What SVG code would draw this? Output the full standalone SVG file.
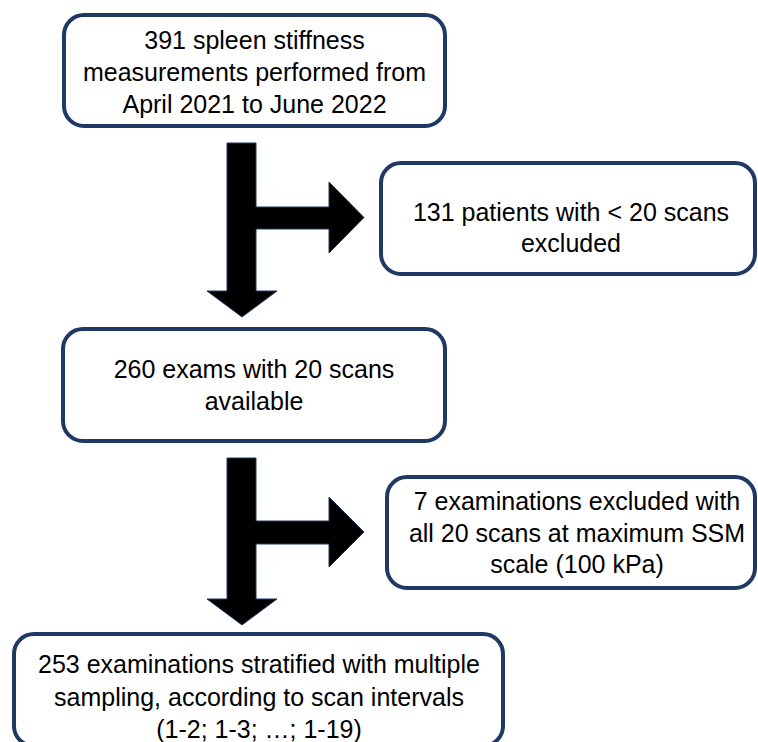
<svg xmlns="http://www.w3.org/2000/svg" width="758" height="742" viewBox="0 0 758 742">
<style>
.box{fill:#ffffff;stroke:#1f3864;stroke-width:4}
.arrow{fill:#000000;stroke:#1f3864;stroke-width:1}
text{font-family:"Liberation Sans",Arial,sans-serif;font-size:25px;fill:#000000;text-anchor:middle}
</style>
<rect width="758" height="742" fill="#ffffff"/>
<g id="connectors">
<path class="arrow" d="M227,143 H256 V207 H329 V182 L364,217.5 L329,253 V229 H256 V291 H277 L242,317 L207,291 H227 Z"/>
<path class="arrow" d="M227,458 H256 V521 H329 V497 L364,532 L329,567 V544 H256 V599 H277 L242,625 L207,599 H227 Z"/>
</g>
<g id="node1">
<rect class="box" x="64" y="15" width="381" height="111" rx="20"/>
<text x="254.5" y="49">391 spleen stiffness</text>
<text x="254.5" y="81">measurements performed from</text>
<text x="254.5" y="113">April 2021 to June 2022</text>
</g>
<g id="node2">
<rect class="box" x="381" y="163" width="374" height="111" rx="20"/>
<text x="571" y="221">131 patients with &lt; 20 scans</text>
<text x="571" y="252">excluded</text>
</g>
<g id="node3">
<rect class="box" x="63" y="329" width="382" height="112" rx="20"/>
<text x="254" y="378">260 exams with 20 scans</text>
<text x="254" y="410">available</text>
</g>
<g id="node4">
<rect class="box" x="387" y="477" width="368" height="111" rx="20"/>
<text x="577" y="510">7 examinations excluded with</text>
<text x="577" y="542">all 20 scans at maximum SSM</text>
<text x="577" y="573">scale (100 kPa)</text>
</g>
<g id="node5">
<rect class="box" x="14" y="634" width="489" height="112" rx="20"/>
<text x="259" y="673">253 examinations stratified with multiple</text>
<text x="259" y="706">sampling, according to scan intervals</text>
<text x="259" y="738">(1-2; 1-3; …; 1-19)</text>
</g>
</svg>
